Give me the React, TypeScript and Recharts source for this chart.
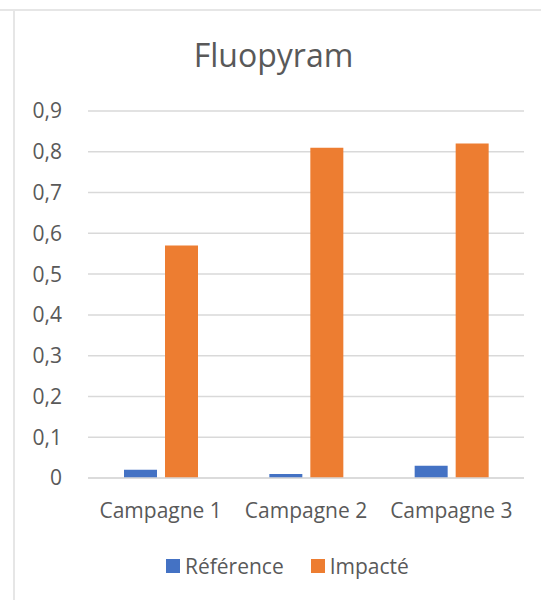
import { BarChart, Bar, XAxis, YAxis, CartesianGrid, Legend } from 'recharts';

const campagnes = ['Campagne 1', 'Campagne 2', 'Campagne 3'];
const reference = [0.02, 0.01, 0.03];
const impacte = [0.57, 0.81, 0.82];
const yTicks = [0, 0.1, 0.2, 0.3, 0.4, 0.5, 0.6, 0.7, 0.8, 0.9];
const seriesOrder = ['Référence', 'Impacté'];

const data = campagnes.map((name, i) => ({
  name,
  reference: reference[i],
  impacte: impacte[i],
}));

const font = '"Open Sans", sans-serif';
const grey = '#595959';

const LegendBox = ({ payload }: any) => {
  const items = [...(payload || [])].sort(
    (a: any, b: any) => seriesOrder.indexOf(a.value) - seriesOrder.indexOf(b.value)
  );
  return (
    <div style={{ display: 'flex', fontFamily: font, fontSize: 21, color: grey, lineHeight: '28px' }}>
      {items.map((p: any) => (
        <div key={p.value} style={{ display: 'flex', alignItems: 'center', marginRight: 27 }}>
          <span style={{ width: 14, height: 14, background: p.color, marginRight: 5, display: 'inline-block' }} />
          {p.value}
        </div>
      ))}
    </div>
  );
};

export default function App() {
  return (
    <div style={{ position: 'absolute', top: 0, left: 0, width: 541, height: 600, background: '#fff' }}>
      <div style={{ position: 'absolute', left: 0, top: 9, width: 541, borderTop: '2px solid #e6e6e6' }} />
      <div style={{ position: 'absolute', left: 13, top: 9, height: 591, borderLeft: '2px solid #e6e6e6' }} />
      <div style={{ position: 'absolute', top: 33, left: 3, width: 541, textAlign: 'center', fontFamily: font, fontSize: 32, color: grey }}>
        Fluopyram
      </div>
      <BarChart
        width={541}
        height={600}
        data={data}
        margin={{ top: 111, right: 17, bottom: 34, left: 0 }}
        barGap={8}
        barSize={33}
        style={{ position: 'absolute', top: 0, left: 0 }}
      >
        <CartesianGrid vertical={false} stroke="#d9d9d9" strokeWidth={1.5} />
        <XAxis
          dataKey="name"
          axisLine={{ stroke: '#d9d9d9', strokeWidth: 1.5 }}
          tickLine={false}
          tickSize={0}
          tickMargin={25}
          height={60}
          tick={{ fill: grey, fontSize: 21, fontFamily: font }}
        />
        <YAxis
          domain={[0, 0.9]}
          ticks={yTicks}
          axisLine={false}
          tickLine={false}
          tickSize={0}
          tickMargin={26}
          width={88}
          tickFormatter={(v: number) => String(v).replace('.', ',')}
          tick={{ fill: grey, fontSize: 21, fontFamily: font }}
        />
        <Legend
          content={<LegendBox />}
          wrapperStyle={{ position: 'absolute', top: 552, left: 166, width: 320, height: 28 }}
        />
        <Bar dataKey="reference" name="Référence" fill="#4472c4" isAnimationActive={false} />
        <Bar dataKey="impacte" name="Impacté" fill="#ed7d31" isAnimationActive={false} />
      </BarChart>
    </div>
  );
}
